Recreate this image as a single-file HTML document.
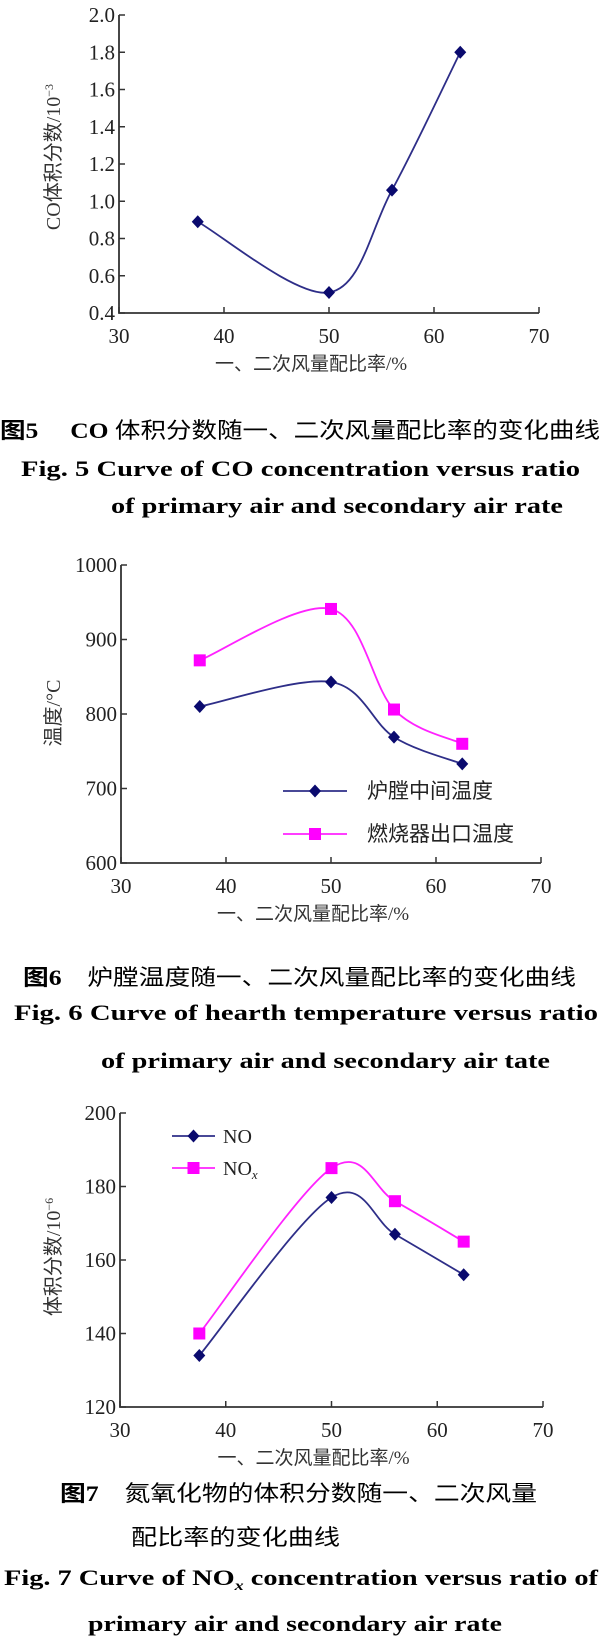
<!DOCTYPE html>
<html><head><meta charset="utf-8"><style>
html,body{margin:0;padding:0;background:#fff;}
svg{display:block;font-family:"Liberation Serif","Noto Serif CJK SC",serif;}
.cap{font-family:"Liberation Serif","Noto Sans CJK SC",serif;}
</style></head><body>
<svg id="svg" width="600" height="1652" viewBox="0 0 600 1652" xmlns="http://www.w3.org/2000/svg">
<g id="c1"></g>
<g id="c2"></g>
<g id="c3"></g>
<g class="cap">
<text x="0" y="438" font-size="22" textLength="600" lengthAdjust="spacingAndGlyphs"><tspan font-weight="bold">图5</tspan>　 <tspan font-weight="bold">CO</tspan> 体积分数随一、二次风量配比率的变化曲线</text>
<text x="21" y="476" font-size="22" font-weight="bold" textLength="559" lengthAdjust="spacingAndGlyphs">Fig. 5   Curve  of  CO  concentration  versus  ratio</text>
<text x="111" y="513" font-size="22" font-weight="bold" textLength="452" lengthAdjust="spacingAndGlyphs">of  primary  air  and  secondary  air  rate</text>
<text x="23" y="985" font-size="22" textLength="553" lengthAdjust="spacingAndGlyphs"><tspan font-weight="bold">图6</tspan>　炉膛温度随一、二次风量配比率的变化曲线</text>
<text x="14" y="1020" font-size="22" font-weight="bold" textLength="584" lengthAdjust="spacingAndGlyphs">Fig. 6   Curve  of  hearth  temperature  versus  ratio</text>
<text x="101" y="1068" font-size="22" font-weight="bold" textLength="449" lengthAdjust="spacingAndGlyphs">of  primary  air  and  secondary  air  tate</text>
<text x="60" y="1501" font-size="22" textLength="477" lengthAdjust="spacingAndGlyphs"><tspan font-weight="bold">图7</tspan>　氮氧化物的体积分数随一、二次风量</text>
<text x="131" y="1545" font-size="22" textLength="209" lengthAdjust="spacingAndGlyphs">配比率的变化曲线</text>
<text x="4" y="1585" font-size="22" font-weight="bold" textLength="594" lengthAdjust="spacingAndGlyphs">Fig. 7   Curve  of  NO<tspan font-style="italic" font-size="14" dy="5">x</tspan><tspan dy="-5"> concentration  versus  ratio  of</tspan></text>
<text x="88" y="1631" font-size="22" font-weight="bold" textLength="414" lengthAdjust="spacingAndGlyphs">primary  air  and  secondary  air  rate</text>
</g>
</svg>
<script>
const xCats = [37.5, 50, 56, 62.5];
const xTicks = [30, 40, 50, 60, 70];
const coValues = [0.89, 0.51, 1.06, 1.80];
const coTicks = [0.4, 0.6, 0.8, 1.0, 1.2, 1.4, 1.6, 1.8, 2.0];
const hearthTemp = [810, 843, 769, 733];
const burnerTemp = [872, 941, 806, 760];
const tempTicks = [600, 700, 800, 900, 1000];
const noValues = [134, 177, 167, 156];
const noxValues = [140, 185, 176, 165];
const noTicks = [120, 140, 160, 180, 200];

const NS = "http://www.w3.org/2000/svg";
function mk(tag, parent, attrs) {
  const e = document.createElementNS(NS, tag);
  for (const k in attrs) e.setAttribute(k, attrs[k]);
  parent.appendChild(e);
  return e;
}
function spline(pts) {
  let d = "M" + pts[0][0] + "," + pts[0][1];
  for (let i = 0; i < pts.length - 1; i++) {
    const p0 = pts[i - 1] || pts[i], p1 = pts[i], p2 = pts[i + 1], p3 = pts[i + 2] || p2;
    const t = 1 / 3;
    const c1 = [p1[0] + (p2[0] - p0[0]) * t / 2, p1[1] + (p2[1] - p0[1]) * t / 2];
    const c2 = [p2[0] - (p3[0] - p1[0]) * t / 2, p2[1] - (p3[1] - p1[1]) * t / 2];
    d += " C" + c1 + " " + c2 + " " + p2;
  }
  return d;
}
function marker(g, type, x, y, color) {
  if (type === "diamond") {
    return mk("path", g, {d: `M${x},${y-6.5}L${x+6},${y}L${x},${y+6.5}L${x-6},${y}Z`, fill: color});
  }
  return mk("rect", g, {x: x-6, y: y-6, width: 12, height: 12, fill: color});
}
function chart(id, cfg) {
  const g = document.getElementById(id);
  const X = v => cfg.x0 + (v - 30) / 40 * (cfg.x1 - cfg.x0);
  const Y = v => cfg.yB - (v - cfg.ymin) / (cfg.ymax - cfg.ymin) * (cfg.yB - cfg.yT);
  const ax = mk("path", g, {d: `M${cfg.x0},${cfg.yT}V${cfg.yB}H${cfg.x1}`, stroke: "#333", "stroke-width": 1.8, fill: "none"});
  
  
  cfg.yTicks.forEach(v => {
    const t = mk("line", g, {x1: cfg.x0, x2: cfg.x0 + 6, y1: Y(v), y2: Y(v), stroke: "#333", "stroke-width": 1.5});
    
    
    const l = mk("text", g, {x: cfg.x0 - 4, y: Y(v) + 7, "text-anchor": "end", "font-size": 21, fill: "#222"});
    l.textContent = cfg.fmt(v);
    
    
  });
  xTicks.forEach(v => {
    const t = mk("line", g, {x1: X(v), x2: X(v), y1: cfg.yB, y2: cfg.yB - 6, stroke: "#333", "stroke-width": 1.5});
    
    
    const l = mk("text", g, {x: X(v), y: cfg.yB + 30, "text-anchor": "middle", "font-size": 21, fill: "#222"});
    l.textContent = v;
    
    
  });
  const xt = mk("text", g, {x: (cfg.x0 + cfg.x1) / 2 - 18, y: cfg.yB + 57, "text-anchor": "middle", "font-size": 19, fill: "#333", "font-family": "'Liberation Serif','Noto Sans CJK SC',sans-serif"});
  xt.textContent = "一、二次风量配比率/%";
  
  
  const yt = mk("text", g, {x: 0, y: 0, "text-anchor": "middle", "font-size": 20, fill: "#333", transform: `translate(${cfg.ytx},${cfg.yty}) rotate(-90)`, "font-family": "'Liberation Serif','Noto Sans CJK SC',sans-serif"});
  yt.innerHTML = cfg.ytitle;
  
  
  cfg.series.forEach(s => {
    const pts = xCats.map((c, i) => [X(c), Y(s.values[i])]);
    const p = mk("path", g, {d: spline(pts), stroke: s.color, "stroke-width": 1.8, fill: "none"});
    
    
    pts.forEach(pt => {
      const m = marker(g, s.marker, pt[0], pt[1], s.mcolor);
      
      
    });
    if (s.legend) {
      const [lx, ly] = s.legend;
      const ll = mk("line", g, {x1: lx, x2: lx + s.llen, y1: ly, y2: ly, stroke: s.color, "stroke-width": 1.8});
      
      
      const lm = marker(g, s.marker, lx + s.llen / 2, ly, s.mcolor);
      
      
      const lt = mk("text", g, {x: lx + s.llen + s.gap, y: ly + 7, "font-size": s.lfs, fill: "#222", "font-family": "'Liberation Serif','Noto Sans CJK SC',sans-serif"});
      lt.innerHTML = s.label;
      
      
    }
  });
}
const BLUE = "#2e2e88", BM = "#0a0a6e", PINK = "#ff22ff", PM = "#ff00ff";
chart("c1", {x0: 119, x1: 539, yT: 15, yB: 313, ymin: 0.4, ymax: 2.0, yTicks: coTicks, fmt: v => v.toFixed(1),
  ytx: 60, yty: 157, ytitle: 'CO体积分数/10<tspan font-size="12" dy="-7">−3</tspan>',
  series: [{name: "co", values: coValues, color: BLUE, mcolor: BM, marker: "diamond"}]});
chart("c2", {x0: 121, x1: 541, yT: 565, yB: 863, ymin: 600, ymax: 1000, yTicks: tempTicks, fmt: v => v,
  ytx: 60, yty: 713, ytitle: '温度/°C',
  series: [
    {name: "hearth-temp", values: hearthTemp, color: BLUE, mcolor: BM, marker: "diamond", legend: [283, 791], llen: 64, gap: 20, lfs: 21, label: "炉膛中间温度"},
    {name: "burner-temp", values: burnerTemp, color: PINK, mcolor: PM, marker: "square", legend: [283, 834], llen: 64, gap: 20, lfs: 21, label: "燃烧器出口温度"}]});
chart("c3", {x0: 120, x1: 543, yT: 1113, yB: 1407, ymin: 120, ymax: 200, yTicks: noTicks, fmt: v => v,
  ytx: 60, yty: 1257, ytitle: '体积分数/10<tspan font-size="12" dy="-7">−6</tspan>',
  series: [
    {name: "no", values: noValues, color: BLUE, mcolor: BM, marker: "diamond", legend: [172, 1136], llen: 43, gap: 8, lfs: 20, label: "NO"},
    {name: "nox", values: noxValues, color: PINK, mcolor: PM, marker: "square", legend: [172, 1168], llen: 43, gap: 8, lfs: 20, label: 'NO<tspan font-size="13" font-style="italic" dy="4">x</tspan>'}]});
</script>
</body></html>
